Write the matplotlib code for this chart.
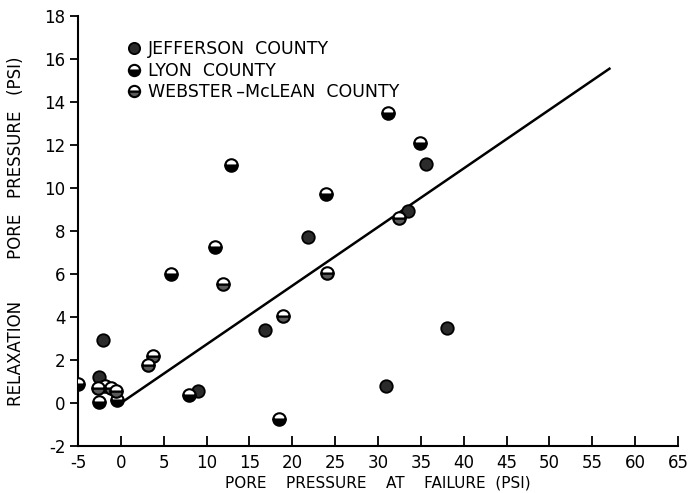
import matplotlib
matplotlib.use("Agg")
import matplotlib.pyplot as plt

# Data (pore pressure at failure, relaxation pore pressure), psi
jeff_x = [-2.1, -2.6, 9.0, 16.8, 21.8, 30.9, 33.5, 35.6, 38.1]
jeff_y = [2.95, 1.2, 0.54, 3.4, 7.74, 0.8, 8.92, 11.1, 3.5]

lyon_x = [-5.0, -2.5, -1.8, -0.5, 5.9, 8.0, 11.0, 12.9, 18.5, 23.9, 31.2, 34.9]
lyon_y = [0.88, 0.05, 0.8, 0.15, 6.0, 0.39, 7.25, 11.05, -0.74, 9.7, 13.5, 12.1]

web_x = [-2.7, -1.2, -0.6, 3.2, 3.7, 11.9, 18.9, 24.1, 32.5]
web_y = [0.72, 0.7, 0.55, 1.76, 2.2, 5.55, 4.05, 6.05, 8.6]

fit_x = [0.0, 57.0]
fit_y = [0.0, 15.55]

x_ticks = list(range(-5, 70, 5))
y_ticks = list(range(-2, 20, 2))

plt.rcParams['font.family'] = ['DejaVu Sans']

fig = plt.figure(figsize=(6.91, 4.93), dpi=100)
ax = fig.add_axes([0.1129, 0.0953, 0.8683, 0.8722])

ax.plot(fit_x, fit_y, color='black', lw=1.8, zorder=2)

ms = 9
ax.plot(jeff_x, jeff_y, 'o', ls='none', ms=ms, mfc='#2b2b2b', mec='black', mew=1.3,
        label='JEFFERSON  COUNTY', zorder=3)
ax.plot(lyon_x, lyon_y, 'o', ls='none', ms=ms, fillstyle='bottom', mfc='black',
        mfcalt='white', mec='black', mew=1.5, label='LYON  COUNTY', zorder=3)
ax.plot(web_x, web_y, 'o', ls='none', ms=ms, fillstyle='bottom', mfc='#5a5a5a',
        mfcalt='white', mec='black', mew=1.5, label='WEBSTER\u2009–McLEAN  COUNTY', zorder=3)

ax.set_xlim(-5, 65)
ax.set_ylim(-2, 18)
ax.set_xticks(x_ticks)
ax.set_yticks(y_ticks)
ax.set_xticklabels([str(t) for t in x_ticks], fontsize=12)
ax.set_yticklabels([str(t) for t in y_ticks], fontsize=12)
ax.tick_params(axis='x', direction='in', length=7, width=1.3, pad=6)
ax.tick_params(axis='y', direction='out', length=6, width=1.3, pad=3)

for s in ['top', 'right']:
    ax.spines[s].set_visible(False)
for s in ['left', 'bottom']:
    ax.spines[s].set_linewidth(1.5)

ax.set_xlabel('PORE    PRESSURE    AT    FAILURE  (PSI)', fontsize=11, labelpad=2)
ax.set_ylabel('RELAXATION        PORE   PRESSURE   (PSI)', fontsize=12, labelpad=14)

leg = ax.legend(loc='upper left', bbox_to_anchor=(0.052, 0.98), frameon=False,
                fontsize=12.5, handletextpad=0.35, labelspacing=0.2,
                handlelength=1.0, markerscale=0.9)

fig.savefig('out.png', dpi=100)
